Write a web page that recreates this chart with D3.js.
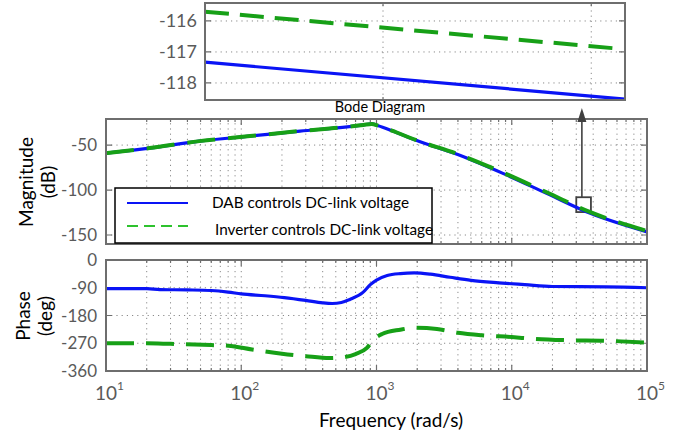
<!DOCTYPE html>
<html>
<head>
<meta charset="utf-8">
<script src="https://cdn.jsdelivr.net/npm/d3@7"></script>
<style>
  body { margin: 0; background: #fff; }
  text { font-family: Lato, "Noto Sans", sans-serif; }
</style>
</head>
<body>
<div id="chart"></div>
<script>
// magnitude (dB) vs frequency (rad/s)
var magFreq = [10, 21, 49, 116, 272, 585, 800, 921, 1030, 1300, 1940, 4080, 8600, 18100, 38100, 100000];
var magDab  = [-58.9, -53.3, -45.6, -40, -34.4, -30, -27.6, -26.5, -28.5, -34, -44.4, -61.1, -81.5, -103.7, -125.9, -146.5];
var magInv  = [-58.9, -53.3, -45.6, -40, -34.4, -30, -27.6, -26.5, -28.5, -34, -44.2, -60.6, -80.5, -102.5, -124.6, -145.6];

// phase (deg)
var phFreqDab = [10, 20, 25, 40, 60, 80, 100, 150, 208, 300, 400, 470, 550, 635, 794, 900, 1000, 1200, 1500, 1900, 2500, 3500, 5000, 8000, 12500, 20000, 50000, 100000];
var phDab     = [-93, -93, -96, -97, -99, -104, -110, -116, -122, -131, -139, -141, -138, -128, -105, -80, -65, -50, -44, -42, -46, -56, -66, -74, -80, -86, -87, -90];
var phFreqInv = [10, 20, 30, 60, 80, 120, 200, 300, 450, 550, 700, 850, 950, 1100, 1500, 1900, 2800, 4000, 6000, 10000, 15000, 25000, 50000, 100000];
var phInv     = [-270, -270, -272, -276, -278, -290, -304, -312, -318, -316, -305, -285, -258, -240, -226, -220, -224, -236, -244, -250, -256, -260, -262, -268];

// zoomed inset
var insetFreqDab = [30170, 32165];
var insetDab     = [-117.33, -118.52];
var insetFreqInv = [30170, 32110];
var insetInv     = [-115.70, -116.88];

var magTicks = [-50, -100, -150];
var phTicks = [0, -90, -180, -270, -360];
var insetTicks = [-116, -117, -118];
var insetXTicks = [31000, 32000];
var decades = [10, 100, 1000, 10000, 100000];

var legendNames = ["DAB controls DC-link voltage", "Inverter controls DC-link voltage"];
var zoomBox = { f0: 30000, f1: 38500, m0: -108, m1: -124.5, fArrow: 33000 };

var blue = "#0a14f5";
var green = "#17a017";
var frameCol = "#6e6e6e";
var gridCol = "#8a8a8a";
var tickTextCol = "#5a5a5a";

var svg = d3.select("#chart").append("svg")
    .attr("width", 685)
    .attr("height", 439);

var x = d3.scaleLog().domain([10, 1e5]).range([106, 647]);
var yMag = d3.scaleLinear().domain([-160, -21]).range([244, 119]);
var yPh = d3.scaleLinear().domain([-360, 0]).range([371, 260]);
var xIn = d3.scaleLog().domain([30170, 32165]).range([205, 625]);
var yIn = d3.scaleLinear().domain([-118.55, -115.42]).range([100, 3]);

var minorTicks = x.ticks();

function drawGrid(g, xs, ys, xt, yt) {
    var x0 = xs.range()[0], x1 = xs.range()[1];
    var y0 = ys.range()[0], y1 = ys.range()[1];
    g.selectAll(".vg").data(xt).enter().append("line")
        .attr("x1", d => xs(d)).attr("x2", d => xs(d))
        .attr("y1", y0).attr("y2", y1)
        .attr("stroke", gridCol).attr("stroke-width", 1)
        .attr("stroke-dasharray", "1.2,4");
    g.selectAll(".hg").data(yt).enter().append("line")
        .attr("x1", x0).attr("x2", x1)
        .attr("y1", d => ys(d)).attr("y2", d => ys(d))
        .attr("stroke", gridCol).attr("stroke-width", 1)
        .attr("stroke-dasharray", "1.2,4");
    // inward ticks on all sides
    g.selectAll(".xt").data(xt).enter().append("path")
        .attr("d", d => {
            var len = decades.indexOf(d) >= 0 ? 6 : 3;
            return "M" + xs(d) + "," + y0 + "v" + (-len) + "M" + xs(d) + "," + y1 + "v" + len;
        })
        .attr("stroke", frameCol).attr("stroke-width", 1.2);
    g.selectAll(".yt").data(yt).enter().append("path")
        .attr("d", d => "M" + x0 + "," + ys(d) + "h6M" + x1 + "," + ys(d) + "h-6")
        .attr("stroke", frameCol).attr("stroke-width", 1.2);
}

function drawFrame(g, xs, ys) {
    var x0 = xs.range()[0], x1 = xs.range()[1];
    var y0 = ys.range()[0], y1 = ys.range()[1];
    g.append("rect")
        .attr("x", x0).attr("y", y1)
        .attr("width", x1 - x0).attr("height", y0 - y1)
        .attr("fill", "none").attr("stroke", frameCol).attr("stroke-width", 2);
}

function yLabels(g, ys, ticks, xpos, size) {
    g.selectAll(".yl").data(ticks).enter().append("text")
        .attr("x", xpos).attr("y", d => ys(d))
        .attr("dy", "0.36em")
        .attr("text-anchor", "end")
        .attr("font-size", size)
        .attr("fill", tickTextCol)
        .text(d => d);
}

function curve(xs, ys) {
    return d3.line()
        .x(d => xs(d[0]))
        .y(d => ys(d[1]))
        .curve(d3.curveMonotoneX);
}

// ---------- magnitude panel ----------
var gMag = svg.append("g");
drawGrid(gMag, x, yMag, minorTicks, magTicks);
yLabels(gMag, yMag, magTicks, 97, 17);

// zoom box (annotation)
gMag.append("rect")
    .attr("x", x(zoomBox.f0)).attr("y", yMag(zoomBox.m0))
    .attr("width", x(zoomBox.f1) - x(zoomBox.f0))
    .attr("height", yMag(zoomBox.m1) - yMag(zoomBox.m0))
    .attr("fill", "none").attr("stroke", "#404040").attr("stroke-width", 1.8);

gMag.append("path")
    .attr("d", curve(x, yMag)(magFreq.map((f, i) => [f, magDab[i]])))
    .attr("fill", "none").attr("stroke", blue).attr("stroke-width", 3.2);
gMag.append("path")
    .attr("d", curve(x, yMag)(magFreq.map((f, i) => [f, magInv[i]])))
    .attr("fill", "none").attr("stroke", green).attr("stroke-width", 4)
    .attr("stroke-dasharray", "28,13");
drawFrame(gMag, x, yMag);

var ax = x(zoomBox.fArrow);
svg.append("line")
    .attr("x1", ax).attr("x2", ax)
    .attr("y1", yMag(zoomBox.m0)).attr("y2", 121)
    .attr("stroke", "#404040").attr("stroke-width", 1.6);
svg.append("path")
    .attr("d", "M" + ax + ",108L" + (ax - 4.5) + ",122L" + (ax + 4.5) + ",122Z")
    .attr("fill", "#404040");

// legend
var lg = svg.append("g");
lg.append("rect")
    .attr("x", 115).attr("y", 188).attr("width", 317).attr("height", 55)
    .attr("fill", "#fff").attr("stroke", "#000").attr("stroke-width", 1.5);
lg.append("line").attr("x1", 127).attr("x2", 188).attr("y1", 203).attr("y2", 203)
    .attr("stroke", blue).attr("stroke-width", 1.8);
lg.append("line").attr("x1", 127).attr("x2", 188).attr("y1", 226).attr("y2", 226)
    .attr("stroke", "#2ec22e").attr("stroke-width", 2)
    .attr("stroke-dasharray", "11,6");
lg.append("text").attr("x", 212).attr("y", 208).attr("font-size", 15.3)
    .attr("fill", "#000").text(legendNames[0]);
lg.append("text").attr("x", 215).attr("y", 235).attr("font-size", 15.3)
    .attr("fill", "#000").text(legendNames[1]);

svg.append("text")
    .attr("x", 380).attr("y", 112)
    .attr("text-anchor", "middle")
    .attr("font-size", 14.5)
    .attr("fill", "#000")
    .text("Bode Diagram");

// y label magnitude
var ml = svg.append("text")
    .attr("transform", "translate(33,182) rotate(-90)")
    .attr("text-anchor", "middle")
    .attr("font-size", 19)
    .attr("fill", "#000");
ml.append("tspan").attr("x", 0).attr("dy", 0).text("Magnitude");
ml.append("tspan").attr("x", 0).attr("dy", 22).text("(dB)");

// ---------- phase panel ----------
var gPh = svg.append("g");
drawGrid(gPh, x, yPh, minorTicks, phTicks.slice(1, 4));
yLabels(gPh, yPh, phTicks, 97, 17);

gPh.append("path")
    .attr("d", curve(x, yPh)(phFreqDab.map((f, i) => [f, phDab[i]])))
    .attr("fill", "none").attr("stroke", blue).attr("stroke-width", 3.2);
gPh.append("path")
    .attr("d", curve(x, yPh)(phFreqInv.map((f, i) => [f, phInv[i]])))
    .attr("fill", "none").attr("stroke", green).attr("stroke-width", 4)
    .attr("stroke-dasharray", "28,12");
drawFrame(gPh, x, yPh);

// x tick labels 10^n
var xl = gPh.selectAll(".xl").data(decades).enter().append("text")
    .attr("x", d => x(d) - 11)
    .attr("y", 400)
    .attr("font-size", 19)
    .attr("fill", tickTextCol);
xl.append("tspan").text("10");
xl.append("tspan").attr("dy", -10).attr("font-size", 12)
    .text(d => Math.round(Math.log10(d)));

svg.append("text")
    .attr("x", 391).attr("y", 427)
    .attr("text-anchor", "middle")
    .attr("font-size", 19)
    .attr("fill", "#000")
    .text("Frequency  (rad/s)");

var pl = svg.append("text")
    .attr("transform", "translate(30,316) rotate(-90)")
    .attr("text-anchor", "middle")
    .attr("font-size", 19)
    .attr("fill", "#000");
pl.append("tspan").attr("x", 0).attr("dy", 0).text("Phase");
pl.append("tspan").attr("x", 0).attr("dy", 22).text("(deg)");

// ---------- inset ----------
var gIn = svg.append("g");
gIn.append("rect")
    .attr("x", 205).attr("y", 3).attr("width", 420).attr("height", 97)
    .attr("fill", "#fff");
drawGrid(gIn, xIn, yIn, insetXTicks, insetTicks);
yLabels(gIn, yIn, insetTicks, 197, 18);
gIn.append("path")
    .attr("d", curve(xIn, yIn)(insetFreqDab.map((f, i) => [f, insetDab[i]])))
    .attr("fill", "none").attr("stroke", blue).attr("stroke-width", 3.2);
gIn.append("path")
    .attr("d", curve(xIn, yIn)(insetFreqInv.map((f, i) => [f, insetInv[i]])))
    .attr("fill", "none").attr("stroke", green).attr("stroke-width", 4)
    .attr("stroke-dasharray", "24,11");
drawFrame(gIn, xIn, yIn);
</script>
</body>
</html>
